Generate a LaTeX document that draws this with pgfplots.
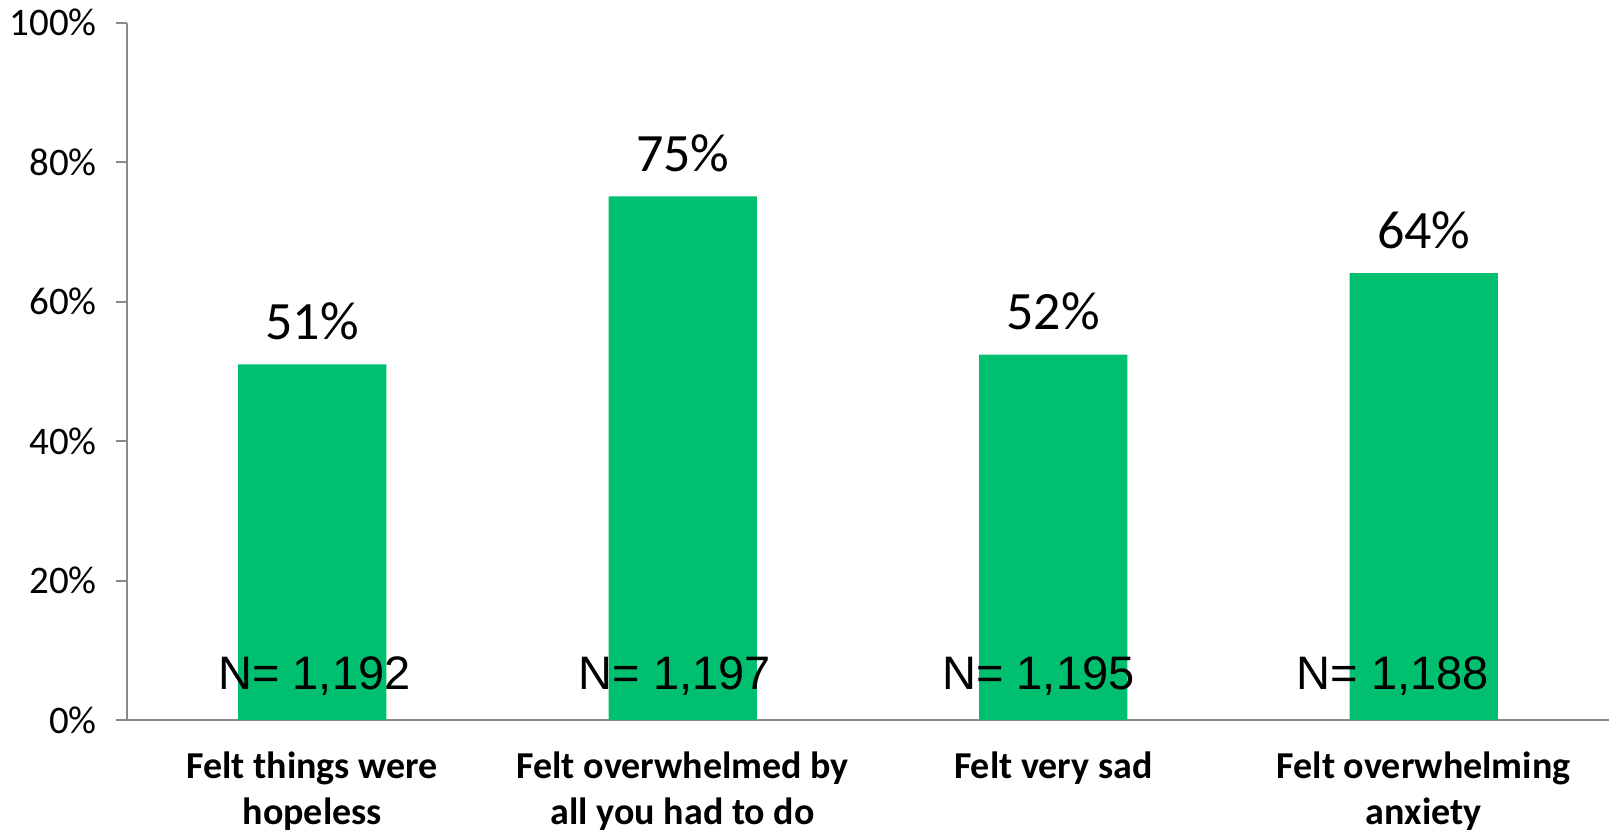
\documentclass[border=0pt]{standalone}
\usepackage{pgfplots}
\pgfplotsset{compat=1.18}
\usepackage{fontspec}
\setmainfont{Carlito}
\newfontfamily\arialish{Liberation Sans}
\definecolor{bargreen}{RGB}{0,191,111}
\definecolor{axisgray}{RGB}{137,137,137}

\begin{document}
\begin{tikzpicture}
\useasboundingbox (-127pt,-112pt) rectangle (1483pt,720pt);
\begin{axis}[
  at={(0,0)}, anchor=south west,
  scale only axis,
  width=1482pt, height=697.3pt,
  xmin=-0.5, xmax=3.5,
  ymin=0, ymax=100,
  axis lines=left,
  axis line style={-, draw=axisgray, line width=2pt},
  tick align=outside,
  major tick length=11pt,
  tick style={draw=axisgray, line width=2pt},
  ytick={0,20,...,100},
  yticklabels={0\%,20\%,40\%,60\%,80\%,100\%},
  yticklabel style={font=\fontsize{39}{46}\selectfont, inner sep=0pt, xshift=-19pt},
  xtick={0,1,2,3},
  xticklabels={Felt things were\\hopeless, Felt overwhelmed by\\all you had to do, Felt very sad, Felt overwhelming\\anxiety},
  x tick style={draw=none},
  xticklabel style={font=\bfseries\fontsize{38}{46}\selectfont, align=center, anchor=north, inner sep=0pt, yshift=-21pt},
  extra x ticks={-0.5,0.5,1.5,2.5,3.5},
  extra x tick labels={},
  extra x tick style={major tick length=12pt, tick style={draw=axisgray, line width=2pt}},
  clip=false,
]
\addplot[ybar, bar width=0.4, fill=bargreen, draw=none,
  point meta=explicit symbolic,
  nodes near coords,
  nodes near coords style={font=\fontsize{54}{62}\selectfont, anchor=base, yshift=25pt}]
  coordinates {(0,51) [51\%] (1,75.1) [75\%] (2,52.4) [52\%] (3,64.1) [64\%]};

\node[font=\arialish\fontsize{47}{55}\selectfont, anchor=base, inner sep=0pt, yshift=30pt] at (axis cs:0.006,0) {N= 1,192};
\node[font=\arialish\fontsize{47}{55}\selectfont, anchor=base, inner sep=0pt, yshift=30pt] at (axis cs:0.979,0) {N= 1,197};
\node[font=\arialish\fontsize{47}{55}\selectfont, anchor=base, inner sep=0pt, yshift=30pt] at (axis cs:1.960,0) {N= 1,195};
\node[font=\arialish\fontsize{47}{55}\selectfont, anchor=base, inner sep=0pt, yshift=30pt] at (axis cs:2.917,0) {N= 1,188};
\end{axis}
\end{tikzpicture}
\end{document}
